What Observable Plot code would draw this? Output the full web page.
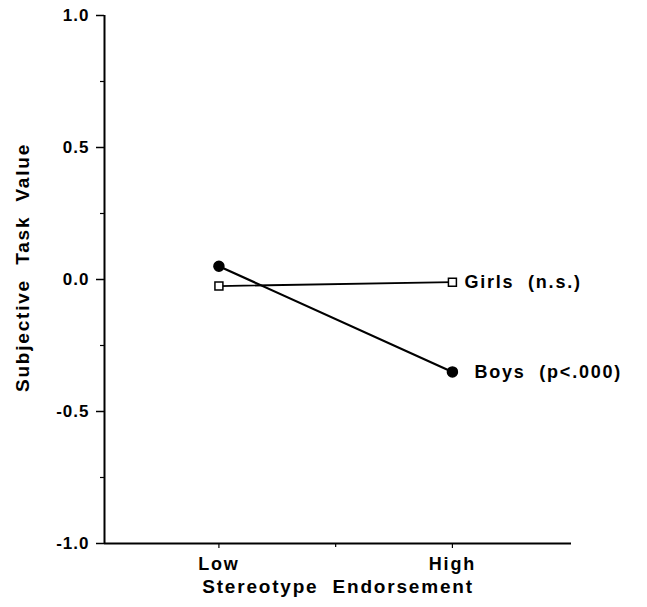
<!DOCTYPE html>
<html><head><meta charset="utf-8">
<script src="https://cdn.jsdelivr.net/npm/d3@7"></script>
<script src="https://cdn.jsdelivr.net/npm/@observablehq/plot@0.6"></script>
<style>
body{margin:0;background:#fff;}
#chart svg text{white-space:pre;}
#chart svg .lbl text{letter-spacing:1.8px;}
#chart svg .tk text{letter-spacing:1px;}
</style></head><body><div id="chart"></div>
<script>
const levels = ["Low", "High"];
const levelPos = [1, 2];
const girls = [-0.025, -0.01];
const boys = [0.05, -0.35];
const yTicks = [-1, -0.5, 0, 0.5, 1];
const yMinorTicks = [-0.75, -0.25, 0.25, 0.75];
const xMinorTicks = [1.5];
const seriesLabels = ["Girls  (n.s.)", "Boys  (p<.000)"];
const xTitle = "Stereotype  Endorsement";
const yTitle = "Subjective  Task  Value";

const girlsData = levelPos.map((x, i) => ({series: "Girls", x, y: girls[i]}));
const boysData = levelPos.map((x, i) => ({series: "Boys", x, y: boys[i]}));

const chart = Plot.plot({
  width: 647,
  height: 607,
  marginLeft: 104,
  marginRight: 76,
  marginTop: 15,
  marginBottom: 64,
  style: {fontFamily: "'Liberation Sans', Arial, sans-serif", fontWeight: "bold", background: "white", color: "black"},
  x: {type: "linear", domain: [0.51, 2.51]},
  y: {domain: [-1, 1]},
  marks: [
    Plot.axisY(yTicks, {className: "tk", tickSize: 8, tickPadding: 7, tickFormat: d => d.toFixed(1), fontSize: 17, fontWeight: "bold", strokeWidth: 1.5, label: null}),
    Plot.axisY(yMinorTicks, {tickSize: 4, tickFormat: () => "", strokeWidth: 1.2, label: null}),
    Plot.axisX(levelPos, {className: "lbl", tickSize: 5, tickPadding: 9, tickFormat: d => levels[d - 1], fontSize: 18, fontWeight: "bold", strokeWidth: 1.2, label: null}),
    Plot.axisX(xMinorTicks, {tickSize: 4, tickFormat: () => "", strokeWidth: 1.2, label: null}),
    Plot.text([xTitle], {className: "lbl", frameAnchor: "bottom", dy: 49, fontSize: 19, fontWeight: "bold"}),
    Plot.text([yTitle], {className: "lbl", frameAnchor: "left", textAnchor: "middle", dx: -82, dy: -12, rotate: -90, fontSize: 19, fontWeight: "bold"}),
    Plot.ruleX([0.51], {y1: -1, y2: 1, stroke: "black", strokeWidth: 2}),
    Plot.ruleY([-1], {x1: 0.51, x2: 2.51, stroke: "black", strokeWidth: 2}),
    Plot.line(girlsData, {x: "x", y: "y", stroke: "black", strokeWidth: 1.8}),
    Plot.line(boysData, {x: "x", y: "y", stroke: "black", strokeWidth: 2.2}),
    Plot.dot(girlsData, {x: "x", y: "y", symbol: "square", r: 4.5, fill: "white", stroke: "black", strokeWidth: 1.5}),
    Plot.dot(boysData, {x: "x", y: "y", symbol: "circle", r: 5, fill: "black", stroke: "black"}),
    Plot.text([girlsData[1]], {className: "lbl", x: "x", y: "y", text: () => seriesLabels[0], dx: 12, textAnchor: "start", fontSize: 18, fontWeight: "bold"}),
    Plot.text([boysData[1]], {className: "lbl", x: "x", y: "y", text: () => seriesLabels[1], dx: 22, textAnchor: "start", fontSize: 18, fontWeight: "bold"})
  ]
});
document.getElementById("chart").appendChild(chart);
</script></body></html>
